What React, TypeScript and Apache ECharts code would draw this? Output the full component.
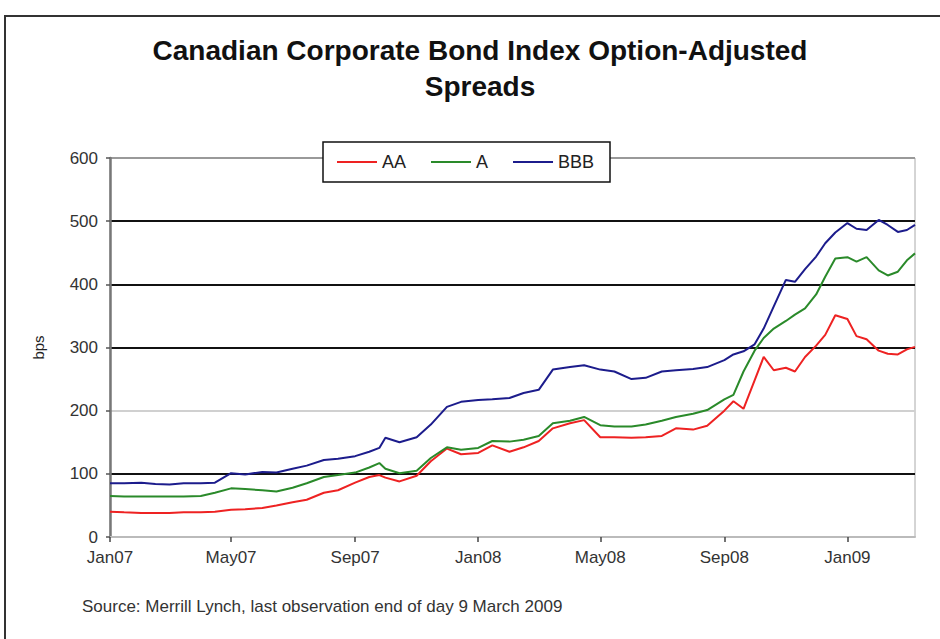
import React, { useEffect, useRef } from "react";
import * as echarts from "echarts";

// Sample dates (observation dates)
const dates = [
  "2007-01-01", "2007-01-15", "2007-02-01", "2007-02-15", "2007-03-01", "2007-03-15",
  "2007-04-01", "2007-04-15", "2007-05-01", "2007-05-15", "2007-06-01", "2007-06-15",
  "2007-07-01", "2007-07-15", "2007-08-01", "2007-08-15", "2007-09-01", "2007-09-15",
  "2007-09-25", "2007-10-01", "2007-10-15", "2007-11-01", "2007-11-15", "2007-12-01",
  "2007-12-15", "2008-01-01", "2008-01-15", "2008-02-01", "2008-02-15", "2008-03-01",
  "2008-03-15", "2008-04-01", "2008-04-15", "2008-05-01", "2008-05-15", "2008-06-01",
  "2008-06-15", "2008-07-01", "2008-07-15", "2008-08-01", "2008-08-15", "2008-09-01",
  "2008-09-10", "2008-09-20", "2008-10-01", "2008-10-10", "2008-10-20", "2008-11-01",
  "2008-11-10", "2008-11-20", "2008-12-01", "2008-12-10", "2008-12-20", "2009-01-01",
  "2009-01-10", "2009-01-20", "2009-02-01", "2009-02-10", "2009-02-20", "2009-03-01",
  "2009-03-09",
];

const aa = [
  40, 39, 38, 38, 38, 39, 39, 40, 43, 44, 46, 50, 55, 59, 70, 74, 86, 95, 98, 94, 88,
  97, 120, 140, 131, 133, 145, 135, 142, 152, 172, 180, 185, 158, 158, 157, 158, 160,
  172, 170, 176, 200, 215, 203, 248, 285, 264, 268, 262, 285, 303, 320, 351, 345, 318,
  313, 295, 290, 289, 297, 301,
];

const a = [
  65, 64, 64, 64, 64, 64, 65, 70, 77, 76, 74, 72, 78, 85, 95, 98, 102, 110, 117, 108,
  101, 105, 125, 142, 138, 141, 152, 151, 154, 160, 180, 184, 190, 177, 175, 175, 178,
  184, 190, 195, 201, 218, 225, 262, 295, 315, 330, 342, 352, 362, 384, 412, 441, 443,
  436, 443, 422, 414, 420, 438, 449,
];

const bbb = [
  85, 85, 86, 84, 83, 85, 85, 86, 101, 99, 103, 102, 108, 113, 122, 124, 128, 135, 141,
  157, 150, 158, 178, 206, 214, 217, 218, 220, 228, 233, 265, 269, 272, 265, 262, 250,
  252, 262, 264, 266, 269, 280, 289, 294, 305, 330, 365, 407, 404, 424, 444, 465, 482,
  497, 488, 486, 502, 494, 483, 486, 494,
];

const seriesNames = ["AA", "A", "BBB"];
const seriesColors = ["#ee2222", "#2a8a2a", "#1c1c8c"];
const monthNames = ["Jan", "Feb", "Mar", "Apr", "May", "Jun", "Jul", "Aug", "Sep", "Oct", "Nov", "Dec"];
const axisStart = "2007-01-01";
const axisEnd = "2009-03-09";
const labelMonths = ["01", "05", "09"];

const FONT = "'Liberation Sans', Arial, sans-serif";

function buildDays(start: string, end: string): string[] {
  const out: string[] = [];
  const d = new Date(start + "T00:00:00Z");
  const e = new Date(end + "T00:00:00Z");
  while (d.getTime() <= e.getTime()) {
    out.push(d.toISOString().slice(0, 10));
    d.setUTCDate(d.getUTCDate() + 1);
  }
  return out;
}

const isLabelDay = (_i: number, v: string) => {
  const parts = v.split("-");
  return parts[2] === "01" && labelMonths.indexOf(parts[1]) >= 0;
};

export default function App() {
  const ref = useRef<HTMLDivElement>(null);
  useEffect(() => {
    if (!ref.current) return;
    const chart = echarts.init(ref.current, undefined, { renderer: "svg" });
    const days = buildDays(axisStart, axisEnd);
    const values = [aa, a, bbb];
    chart.setOption({
      animation: false,
      backgroundColor: "#ffffff",
      textStyle: { fontFamily: FONT },
      grid: {
        left: 110,
        right: 25,
        top: 158,
        bottom: 102,
        show: true,
        borderColor: "#aaaaaa",
        borderWidth: 1,
      },
      legend: {
        data: seriesNames,
        left: 337,
        top: 153,
        padding: 0,
        icon: "rect",
        itemWidth: 40,
        itemHeight: 2,
        itemGap: 25,
        textStyle: { fontSize: 18, color: "#222", fontFamily: FONT },
      },
      xAxis: {
        type: "category",
        data: days,
        boundaryGap: false,
        axisLine: { lineStyle: { color: "#bbbbbb", width: 2 } },
        axisTick: {
          show: true,
          interval: isLabelDay,
          length: 5,
          lineStyle: { color: "#444", width: 1.5 },
        },
        axisLabel: {
          interval: isLabelDay,
          margin: 12,
          fontSize: 17,
          color: "#333",
          fontFamily: FONT,
          formatter: (v: string) => {
            const p = v.split("-");
            return monthNames[parseInt(p[1], 10) - 1] + p[0].slice(2);
          },
        },
        splitLine: { show: false },
      },
      yAxis: {
        type: "value",
        min: 0,
        max: 600,
        interval: 100,
        name: "bps",
        nameLocation: "middle",
        nameGap: 64,
        nameTextStyle: { fontSize: 15, color: "#222", fontFamily: FONT },
        axisLine: { show: true, lineStyle: { color: "#777777", width: 2.5 } },
        axisTick: { show: true, length: 4, lineStyle: { color: "#555", width: 1.5 } },
        axisLabel: { fontSize: 17, color: "#333", margin: 12, fontFamily: FONT },
        splitLine: {
          show: true,
          lineStyle: {
            color: ["#cccccc", "#111111", "#d0d0d0", "#111111", "#111111", "#111111", "#999999"],
            width: 2,
          },
        },
      },
      series: seriesNames.map((name, si) => ({
        name,
        type: "line",
        symbol: "none",
        showSymbol: false,
        data: dates.map((d, i) => [d, values[si][i]]),
        lineStyle: { color: seriesColors[si], width: 2 },
        itemStyle: { color: seriesColors[si] },
        z: 3 + si,
      })),
      graphic: [
        {
          type: "rect",
          z: 1,
          silent: true,
          shape: { x: 5, y: 16, width: 1000, height: 700 },
          style: { fill: "none", stroke: "#333", lineWidth: 2 },
        },
        {
          type: "rect",
          z: 3,
          silent: true,
          shape: { x: 323, y: 142, width: 287, height: 40 },
          style: { fill: "#ffffff", stroke: "#111", lineWidth: 1.5 },
        },
        {
          type: "text",
          x: 480,
          y: 50,
          style: {
            text: "Canadian Corporate Bond Index Option-Adjusted",
            fontSize: 28,
            fontWeight: "bold",
            fontFamily: FONT,
            fill: "#111",
            align: "center",
            verticalAlign: "middle",
          },
        },
        {
          type: "text",
          x: 480,
          y: 86,
          style: {
            text: "Spreads",
            fontSize: 28,
            fontWeight: "bold",
            fontFamily: FONT,
            fill: "#111",
            align: "center",
            verticalAlign: "middle",
          },
        },
        {
          type: "text",
          x: 82,
          y: 606,
          style: {
            text: "Source: Merrill Lynch, last observation end of day 9 March 2009",
            fontSize: 17,
            fontFamily: FONT,
            fill: "#333",
            align: "left",
            verticalAlign: "middle",
          },
        },
      ],
    });
    return () => chart.dispose();
  }, []);
  return (
    <div
      ref={ref}
      style={{ position: "fixed", left: 0, top: 0, width: 940, height: 639 }}
    />
  );
}
